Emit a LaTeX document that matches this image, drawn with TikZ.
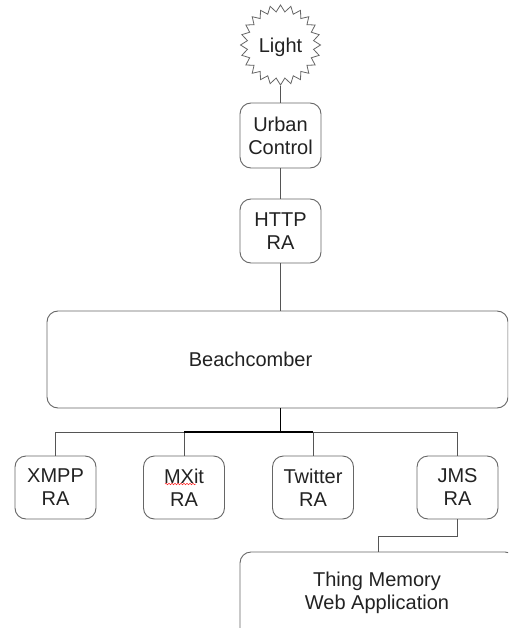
\documentclass[tikz,border=0pt]{standalone}
\usepackage{fontspec}
\setmainfont{Liberation Sans}
\usetikzlibrary{shapes.geometric,decorations.pathmorphing}
\definecolor{boxline}{HTML}{666666}
\definecolor{conn}{HTML}{555555}
\definecolor{txt}{HTML}{222222}
\begin{document}
\begin{tikzpicture}[x=1pt,y=-1pt,
  lbl/.style={text=txt, align=center, font=\fontsize{20}{23}\selectfont, inner sep=0pt},
  box/.style={lbl, draw=boxline, line width=0.9pt, rounded corners=11pt, fill=white},
  rabox/.style={box, minimum width=81pt, minimum height=63pt},
  link/.style={draw=conn, line width=0.9pt},
  strong/.style={draw=black, line width=1.3pt}]
\useasboundingbox (0,0) rectangle (508,628);
\clip (0,0) rectangle (508,628);
\fill[white] (0,0) rectangle (508,628);

\node[star, star points=24, star point ratio=1.2, minimum size=80pt, inner sep=0pt, draw=boxline, line width=0.8pt] (light) at (280.5,45) {};
\node[lbl] (lighttxt) at (280.5,47.5) {Light};
\node[box, minimum width=81pt, minimum height=65pt] (urban) at (280.5,135.5) {Urban\\Control};
\node[box, minimum width=81pt, minimum height=64pt] (http) at (280.5,231) {HTTP\\RA};
\node[box, minimum width=461pt, minimum height=97pt] (beach) at (277.5,359.5) {};
\node[lbl] (beachtxt) at (250.5,359) {Beachcomber};

\node[rabox] (xmpp) at (55.5,487.5) {XMPP\\RA};
\node[rabox] (mxit) at (184,487.5) {MXit\\RA};
\node[rabox] (twitter) at (313,487.5) {Twitter\\RA};
\node[rabox] (jms) at (457.5,487.5) {JMS\\RA};

\node[box, minimum width=276pt, minimum height=90pt] (thing) at (378,597) {};
\node[lbl] (thingtxt) at (377,592.5) {Thing Memory\\Web Application};

\draw[link] (light) -- (urban);
\draw[link] (urban) -- (http);
\draw[link] (http) -- (http.south |- beach.north);
\coordinate (bus) at (280.5,432);
\draw[link] (bus) -| (xmpp.north);
\draw[link] (bus) -| (jms.north);
\draw[link] (bus) -| (mxit.north);
\draw[link] (bus) -| (twitter.north);
\draw[strong] (http.south |- beach.south) -- (bus);
\draw[strong] (mxit.north |- bus) -- (twitter.north |- bus);
\coordinate (jmsbend) at (457.5,536);
\draw[link] (jms.south) -- (jmsbend) -| (thing.north);

\draw[red!85, line width=0.5pt, decorate, decoration={snake, amplitude=0.8pt, segment length=3pt}] (165,484) -- (196,484);
\end{tikzpicture}
\end{document}
